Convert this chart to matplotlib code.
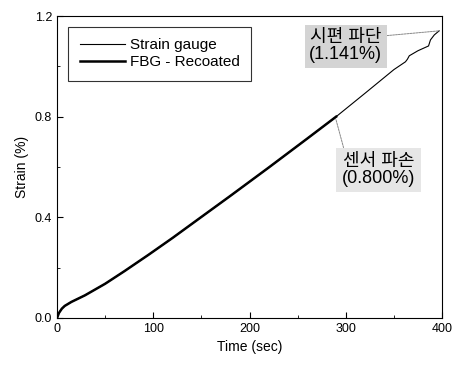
import matplotlib
matplotlib.use('Agg')
import matplotlib.pyplot as plt

# strain gauge (runs until specimen fracture)
gauge_t = [0, 2, 5, 8, 15, 29, 50, 70, 95, 120, 148, 180, 220, 260, 290,
           320, 335, 350, 362, 364, 366, 375, 386, 388, 392, 397]
gauge_s = [0, 0.02, 0.037, 0.048, 0.064, 0.09, 0.136, 0.186, 0.251, 0.318,
           0.396, 0.485, 0.598, 0.713, 0.80, 0.893, 0.94, 0.987, 1.018, 1.028,
           1.042, 1.062, 1.081, 1.105, 1.125, 1.141]

# recoated FBG (until sensor breakage)
fbg_t = [0, 2, 5, 8, 15, 29, 50, 70, 95, 120, 148, 180, 220, 260, 290]
fbg_s = [0, 0.02, 0.037, 0.048, 0.064, 0.09, 0.136, 0.186, 0.251, 0.318,
         0.396, 0.485, 0.598, 0.713, 0.80]

series_names = ['Strain gauge', 'FBG - Recoated']
notes = ['시편 파단\n(1.141%)', '센서 파손\n(0.800%)']
note_pts = [(397, 1.141), (289, 0.80)]

plt.rcParams['font.family'] = ['Liberation Sans', 'Noto Sans CJK KR', 'DejaVu Sans']

fig = plt.figure(figsize=(4.54, 3.68), dpi=100)
ax = fig.add_axes([0.1256, 0.1359, 0.8480, 0.8206])

ax.plot(gauge_t, gauge_s, color='black', lw=0.8, label=series_names[0])
ax.plot(fbg_t, fbg_s, color='black', lw=1.8, label=series_names[1])

ax.set_xlim(0, 400)
ax.set_ylim(0, 1.2)
ax.set_xticks([0, 100, 200, 300, 400])
ax.set_xticks([50, 150, 250, 350], minor=True)
ax.set_yticks([0.0, 0.4, 0.8, 1.2])
ax.set_yticks([0.2, 0.6, 1.0], minor=True)
ax.set_yticklabels(['0.0', '0.4', '0.8', '1.2'])
ax.tick_params(which='both', direction='in', labelsize=9)
ax.tick_params(which='major', length=4)
ax.tick_params(which='minor', length=2)
ax.set_xlabel('Time (sec)', fontsize=10)
ax.set_ylabel('Strain (%)', fontsize=10)

leg = ax.legend(loc='upper left', bbox_to_anchor=(0.029, 0.964), fontsize=11,
                frameon=True, fancybox=False, edgecolor='black',
                borderaxespad=0, handlelength=3.0, borderpad=0.75,
                labelspacing=0.2, handletextpad=0.3)
leg.get_frame().set_linewidth(0.8)

ax.annotate(notes[0], xy=note_pts[0], xytext=(300, 1.08), ha='center',
            va='center', fontsize=13, linespacing=1.0,
            bbox=dict(boxstyle='square,pad=0.25', fc='#d4d4d4', ec='none'),
            arrowprops=dict(arrowstyle='-', color='#888888', lw=0.7,
                        ls=(0, (2, 1)), shrinkA=0, shrinkB=0,
                        relpos=(1.0, 0.8)))
ax.annotate(notes[1], xy=note_pts[1], xytext=(334, 0.588), ha='center',
            va='center', fontsize=13, linespacing=1.0,
            bbox=dict(boxstyle='square,pad=0.3', fc='#e6e6e6', ec='none'),
            arrowprops=dict(arrowstyle='-', color='#888888', lw=0.7,
                        ls=(0, (2, 1)), shrinkA=0, shrinkB=2,
                        relpos=(0.05, 0.95)))

fig.savefig('out.png', dpi=100)
